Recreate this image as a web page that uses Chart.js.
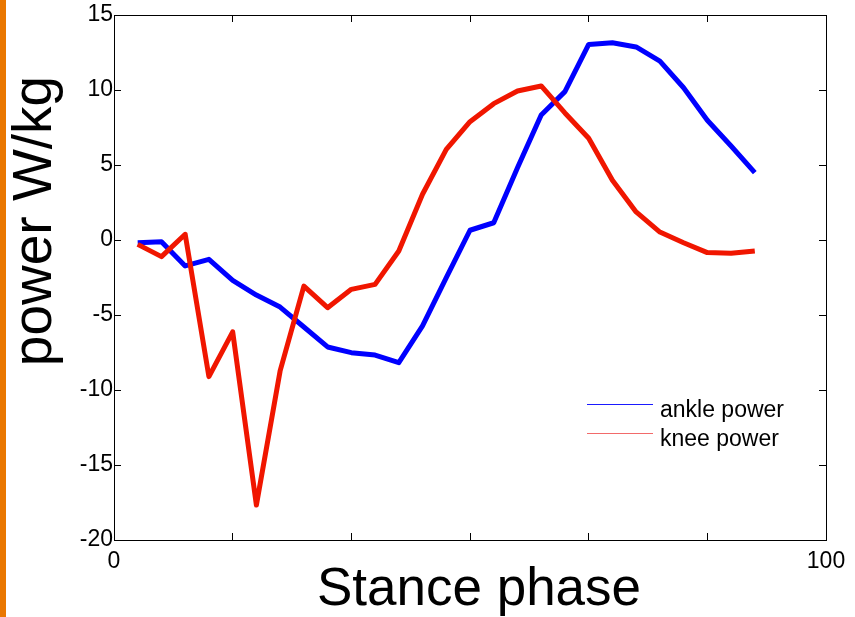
<!DOCTYPE html>
<html>
<head>
<meta charset="utf-8">
<script src="https://cdn.jsdelivr.net/npm/chart.js@4.4.0/dist/chart.umd.min.js"></script>
<style>
  html, body { margin: 0; padding: 0; background: #fff; }
  #wrap { width: 855px; height: 617px; }
</style>
</head>
<body>
<div id="wrap"><canvas id="powerChart" width="855" height="617"></canvas></div>
<script>
// stance phase (%) of each sample
const phase = [3.33, 6.67, 10, 13.33, 16.67, 20, 23.33, 26.67, 30, 33.33, 36.67, 40, 43.33, 46.67,
  50, 53.33, 56.67, 60, 63.33, 66.67, 70, 73.33, 76.67, 80, 83.33, 86.67, 90];

const anklePower = [-0.18, -0.11, -1.73, -1.29, -2.69, -3.67, -4.47, -5.8, -7.13, -7.51, -7.67, -8.18, -5.73, -2.51,
  0.65, 1.15, 4.82, 8.33, 9.89, 13.04, 13.15, 12.87, 11.93, 10.15, 7.98, 6.27, 4.49];

const kneePower = [-0.29, -1.11, 0.38, -9.11, -6.12, -17.67, -8.73, -3.07, -4.51, -3.29, -2.96, -0.73, 3.05, 6.04,
  7.89, 9.09, 9.93, 10.27, 8.47, 6.78, 3.98, 1.87, 0.53, -0.18, -0.84, -0.89, -0.73];

const seriesLabels = ['ankle power', 'knee power'];
const seriesColors = ['#0000ff', '#f01600'];
const legendLineColors = ['#1a1aff', '#f26a6a'];
const xTicks = [0, 16.667, 33.333, 50, 66.667, 83.333, 100];
const xTickLabels = ['0', '', '', '', '', '', '100'];
const yTitle = 'power W/kg';
const xTitle = 'Stance phase';

const FONT = "'Liberation Sans', Arial, sans-serif";

// orange strip, axis titles and the little legend inside the box
const decorations = {
  id: 'decorations',
  beforeDraw(chart) {
    const ctx = chart.ctx;
    ctx.save();
    ctx.fillStyle = '#fff';
    ctx.fillRect(0, 0, chart.width, chart.height);
    ctx.fillStyle = '#ea7700';
    ctx.fillRect(0, 0, 6, chart.height);
    ctx.restore();
  },
  afterDraw(chart) {
    const ctx = chart.ctx;
    ctx.save();
    ctx.fillStyle = '#000';
    ctx.textBaseline = 'alphabetic';
    ctx.textAlign = 'center';

    ctx.font = '53px ' + FONT;
    ctx.fillText(xTitle, 479, 605);

    ctx.save();
    ctx.translate(51, 221);
    ctx.rotate(-Math.PI / 2);
    ctx.font = '55px ' + FONT;
    ctx.fillText(yTitle, 0, 0);
    ctx.restore();

    // legend
    ctx.textAlign = 'left';
    ctx.font = '23px ' + FONT;
    seriesLabels.forEach((label, i) => {
      const y = 404 + i * 29;
      ctx.fillStyle = legendLineColors[i];
      ctx.fillRect(587, y, 66, 1);
      ctx.fillStyle = '#000';
      ctx.fillText(label, 660, y + 13);
    });
    ctx.restore();
  }
};

function setXTicks(scale) {
  scale.ticks = xTicks.map(v => ({ value: v }));
}

function fixHeight(h) {
  return s => { s.height = h; s.paddingLeft = 0; s.paddingRight = 0; };
}

function fixWidth(w) {
  return s => { s.width = w; s.paddingTop = 0; s.paddingBottom = 0; };
}

const tickFont = { family: FONT, size: 23 };
const boxGrid = { drawOnChartArea: false, drawTicks: true, tickLength: -7, color: '#000', lineWidth: 1 };
const boxBorder = { display: true, color: '#000', width: 1 };

new Chart(document.getElementById('powerChart'), {
  type: 'line',
  data: {
    datasets: [
      {
        label: seriesLabels[0],
        data: phase.map((p, i) => ({ x: p, y: anklePower[i] })),
        borderColor: seriesColors[0],
        borderWidth: 5,
        borderJoinStyle: 'round',
        pointRadius: 0,
        tension: 0,
        order: 1
      },
      {
        label: seriesLabels[1],
        data: phase.map((p, i) => ({ x: p, y: kneePower[i] })),
        borderColor: seriesColors[1],
        borderWidth: 5,
        borderJoinStyle: 'round',
        pointRadius: 0,
        tension: 0,
        order: 0
      }
    ]
  },
  options: {
    responsive: false,
    animation: false,
    layout: { padding: { left: 0, top: 15, right: 29, bottom: 0 } },
    plugins: {
      legend: { display: false },
      tooltip: { enabled: false }
    },
    scales: {
      x: {
        type: 'linear',
        position: 'bottom',
        min: 0,
        max: 100,
        afterBuildTicks: setXTicks,
        afterFit: fixHeight(77),
        ticks: {
          callback: (v, i) => xTickLabels[i],
          font: tickFont,
          color: '#000',
          padding: 15,
          maxRotation: 0,
          autoSkip: false
        },
        grid: boxGrid,
        border: boxBorder
      },
      x2: {
        type: 'linear',
        position: 'top',
        min: 0,
        max: 100,
        afterBuildTicks: setXTicks,
        afterFit: fixHeight(0),
        ticks: { display: false },
        grid: boxGrid,
        border: boxBorder
      },
      y: {
        position: 'left',
        min: -20,
        max: 15,
        afterFit: fixWidth(114),
        ticks: { stepSize: 5, font: tickFont, color: '#000', padding: 8 },
        grid: boxGrid,
        border: boxBorder
      },
      y2: {
        position: 'right',
        min: -20,
        max: 15,
        afterFit: fixWidth(0),
        ticks: { stepSize: 5, display: false },
        grid: boxGrid,
        border: boxBorder
      }
    }
  },
  plugins: [decorations]
});
</script>
</body>
</html>
